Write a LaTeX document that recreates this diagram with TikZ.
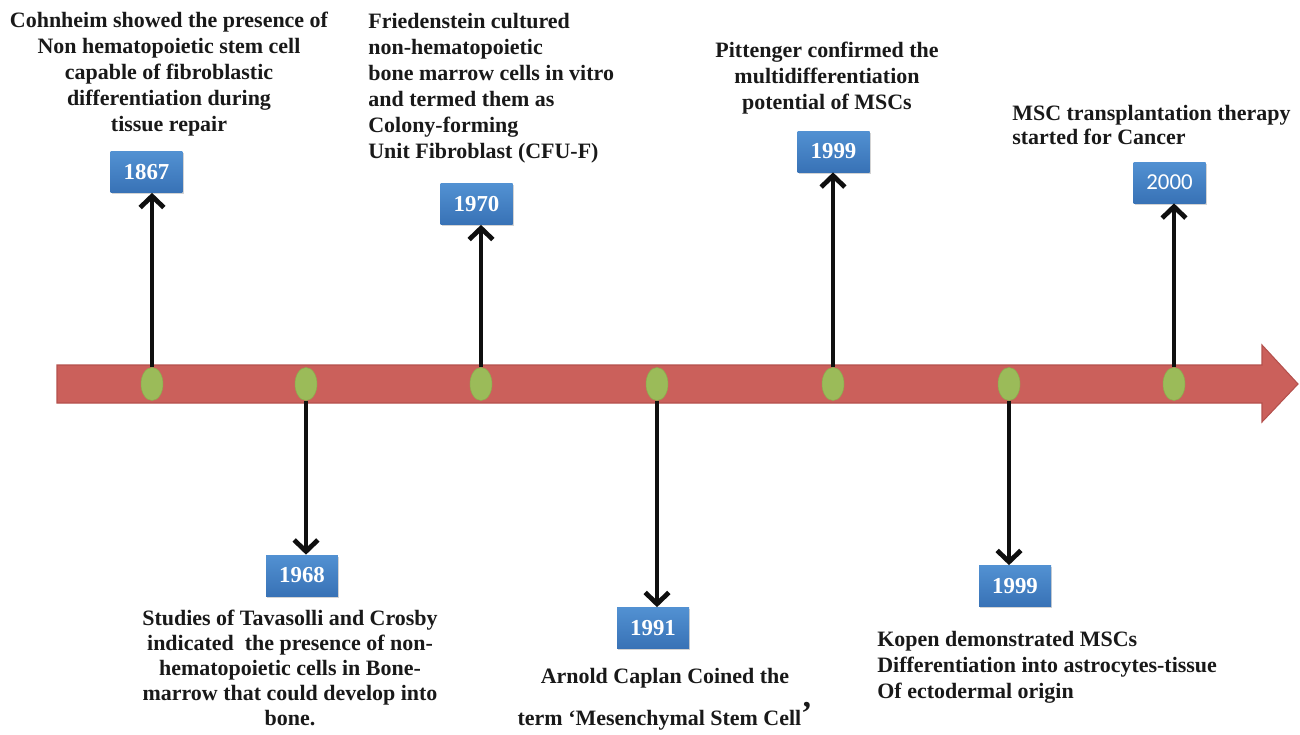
\documentclass[tikz,border=0pt]{standalone}
\usepackage{fontspec}
\setmainfont{Liberation Serif}
\newfontfamily\carl{Carlito}
\usetikzlibrary{arrows.meta,shadows,shapes.geometric}
\definecolor{barred}{RGB}{203,96,91}
\definecolor{baredge}{RGB}{180,80,76}
\definecolor{dotgreen}{RGB}{155,187,89}
\definecolor{dotedge}{RGB}{140,172,78}
\definecolor{boxtop}{RGB}{82,145,210}
\definecolor{boxbot}{RGB}{56,114,182}
\tikzset{
  yearbox/.style={rectangle, minimum width=1.44cm, minimum height=0.82cm, inner sep=0pt,
    top color=boxtop, bottom color=boxbot, draw=none,
    drop shadow={opacity=0.35, shadow xshift=0.6pt, shadow yshift=-1pt},
    text=white, font=\bfseries\fontsize{13}{14}\selectfont},
  dot/.style={ellipse, minimum width=0.44cm, minimum height=0.66cm, inner sep=0pt,
    fill=dotgreen, draw=dotedge, line width=0.3pt},
  conn/.style={line width=2.7pt, draw={rgb,255:red,15;green,15;blue,15},
    -{Straight Barb[length=6.5pt,width=13.5pt]}},
  desc/.style={inner sep=0pt, font=\bfseries\fontsize{12.5}{14.8}\selectfont, text={rgb,255:red,25;green,25;blue,25}}
}
\begin{document}
\begin{tikzpicture}[x=0.02cm, y=-0.02cm]
\useasboundingbox (0,0) rectangle (1300,734);
% main bar arrow
\draw[fill=barred, draw=baredge, line width=0.6pt]
  (57,365) -- (1262,365) -- (1262,345) -- (1298,384) -- (1262,422) -- (1262,403) -- (57,403) -- cycle;
% year boxes
\node[yearbox] (b1) at (146.5,172) {1867};
\node[yearbox] (b2) at (302,575.5) {1968};
\node[yearbox] (b3) at (476.5,204) {1970};
\node[yearbox] (b4) at (653,628) {1991};
\node[yearbox] (b5) at (833.5,151.5) {1999};
\node[yearbox] (b6) at (1015,586) {1999};
\node[yearbox, font=\carl\fontsize{13}{14}\selectfont] (b7) at (1169.5,182.5) {2000};
% dots
\node[dot] (e1) at (152,384) {};
\node[dot] (e2) at (306,384) {};
\node[dot] (e3) at (481,384) {};
\node[dot] (e4) at (657,384) {};
\node[dot] (e5) at (833,384) {};
\node[dot] (e6) at (1009,384) {};
\node[dot] (e7) at (1174,384) {};
% connectors
\draw[conn] (e1.north) -- (e1.north |- b1.south);
\draw[conn] (e3.north) -- (e3.north |- b3.south);
\draw[conn] (e5.north) -- (e5.north |- b5.south);
\draw[conn] (e7.north) -- (e7.north |- b7.south);
\draw[conn] (e2.south) -- (e2.south |- b2.north);
\draw[conn] (e4.south) -- (e4.south |- b4.north);
\draw[conn] (e6.south) -- (e6.south |- b6.north);
% descriptions
\node[desc, align=center, anchor=north] (t1) at (169,12)
  {Cohnheim showed the presence of\\Non hematopoietic stem cell\\capable of fibroblastic\\differentiation during\\tissue repair};
\node[desc, align=left, anchor=north west] (t3) at (368,13)
  {Friedenstein cultured\\non-hematopoietic\\bone marrow cells in vitro\\and termed them as\\Colony-forming\\Unit Fibroblast (CFU-F)};
\node[desc, align=center, anchor=north] (t5) at (827,42)
  {Pittenger confirmed the\\multidifferentiation\\potential of MSCs};
\node[desc, align=left, anchor=north west] (t7) at (1012,105)
  {MSC transplantation therapy\\[-1.2pt]started for Cancer};
\node[desc, align=center, anchor=north, font=\bfseries\fontsize{12.5}{14.2}\selectfont] (t2) at (290,610)
  {Studies of Tavasolli and Crosby\\indicated~ the presence of non-\\hematopoietic cells in Bone-\\marrow that could develop into\\bone.};
\node[desc, align=center, anchor=north] (t4) at (665,668)
  {Arnold Caplan Coined the\\[6.8pt]term ‘Mesenchymal Stem Cell\raisebox{1pt}{\fontsize{19}{19}\selectfont ’}};
\node[desc, align=left, anchor=north west] (t6) at (877,631)
  {Kopen demonstrated MSCs\\Differentiation into astrocytes-tissue\\Of ectodermal origin};
\end{tikzpicture}
\end{document}
